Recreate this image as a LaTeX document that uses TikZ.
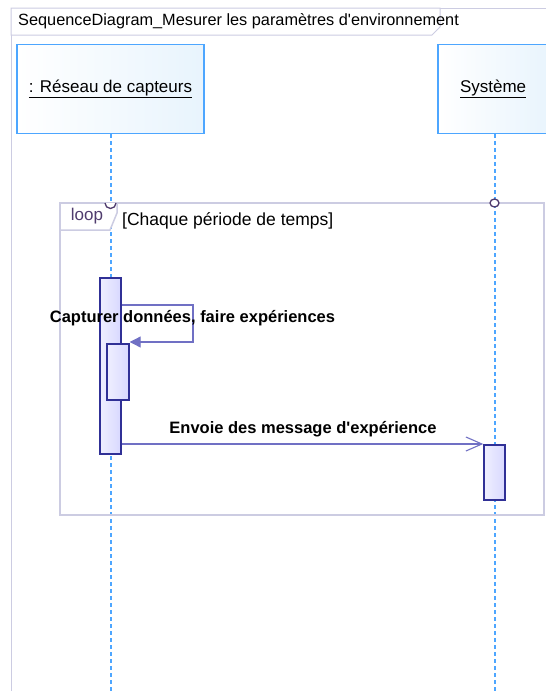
\documentclass[tikz,border=0pt]{standalone}
\usepackage{fontspec}
\setmainfont{Liberation Sans}
\usepackage{tikz}
\usetikzlibrary{arrows.meta, positioning, shapes}
\definecolor{cadre}{RGB}{204, 204, 226}
\definecolor{ciel}{RGB}{77, 166, 255}
\definecolor{pale}{RGB}{232, 244, 253}
\definecolor{nuit}{RGB}{48, 48, 150}
\definecolor{lavande}{RGB}{216, 216, 255}
\definecolor{mauve}{RGB}{112, 112, 196}
\definecolor{prune}{RGB}{80, 60, 110}
\tikzset{
    head/.style={draw=ciel, line width=1.6pt, left color=white, right color=pale, inner sep=0pt, font=\fontsize{17}{20}\selectfont},
    lifeline/.style={ciel, line width=2pt, dash pattern=on 4pt off 3pt},
    act/.style={draw=nuit, line width=1.4pt, left color=white!60!lavande, right color=lavande, inner sep=0pt, minimum width=21pt},
    frag/.style={cadre, line width=1.5pt},
    msg/.style={mauve, line width=1.1pt},
    label/.style={font=\bfseries\fontsize{16.5}{19}\selectfont, inner sep=0pt},
}

\begin{document}
\begin{tikzpicture}[x=1pt, y=-1pt]
    \useasboundingbox (0,0) rectangle (546,691);
    \clip (0,0) rectangle (546,691);
    \fill[white] (0,0) rectangle (546,691);

    % diagram frame and its name tab
    \draw[frag, line width=1pt] (11,691) -- (11,8) -- (546,8);
    \draw[frag, line width=1pt, fill=white] (11,8) -- (440,8) -- (440,27) -- (432,35) -- (11,35) -- cycle;
    \node[anchor=west, inner sep=0pt, font=\fontsize{16.3}{19}\selectfont] (title) at (18,21)
        {SequenceDiagram\_Mesurer les paramètres d\textquotesingle environnement};

    % lifelines
    \node[head, minimum width=187pt, minimum height=89pt] (res) at (110.5,89) {\underline{: Réseau de capteurs}};
    \node[head, minimum width=114pt, minimum height=89pt, text width=114pt, align=left] (sys) at (495,89)
        {\hspace*{22pt}\underline{Système}};
    \coordinate (resEnd) at (110.5,691);
    \coordinate (sysEnd) at (494.5,691);
    \draw[lifeline] (res.south) -- (resEnd);
    \draw[lifeline] (sys.south -| sysEnd) -- (sysEnd);

    % loop fragment
    \draw[frag] (60,203) rectangle (544,515);
    \draw[frag, fill=white] (60,203) -- (117,203) -- (117,213) -- (110,230) -- (60,230) -- cycle;
    \node[inner sep=0pt, text=prune, font=\fontsize{17}{20}\selectfont] (loop) at (87,216) {loop};
    \node[anchor=west, inner sep=0pt, font=\fontsize{17.5}{20}\selectfont] (cond) at (122,221) {[Chaque période de temps]};
    \draw[prune, line width=1.3pt, fill=white] (105,203) arc[start angle=180, end angle=0, radius=5.5];
    \draw[prune, line width=1.3pt, fill=white] (494.5,203) ellipse[x radius=4.5, y radius=4];

    % activations
    \node[act, minimum height=176pt] (act1) at (110.5,366) {};
    \node[act, minimum width=22pt, minimum height=56pt] (act2) at (118,372) {};
    \node[act, minimum height=55pt] (act3) at (494.5,472.5) {};

    % messages
    \draw[msg, -{Triangle[length=11pt, width=11pt]}] (act1.east |- 0,305) -- (193,305) |- (act2.east |- 0,342);
    \node[label] (capt) at (192.5,318) {Capturer données, faire expériences};
    \draw[msg, -{Straight Barb[length=16pt, width=14pt, line width=1.1pt]}] (act1.east |- 0,444) -- (act3.west |- 0,444);
    \node[label] (envoi) at (303,429) {Envoie des message d\textquotesingle expérience};
\end{tikzpicture}
\end{document}
